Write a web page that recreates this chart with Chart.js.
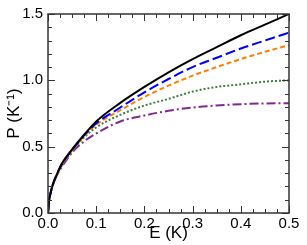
<!DOCTYPE html>
<html>
<head>
<meta charset="utf-8">
<script src="https://cdn.jsdelivr.net/npm/chart.js@4.4.0/dist/chart.umd.min.js"></script>
<style>
  html, body { margin: 0; padding: 0; background: #fff; }
  #wrap { width: 307px; height: 245px; }
</style>
</head>
<body>
<div id="wrap"><canvas id="c"></canvas></div>
<script>
// E (K) sample positions and P (K^-1)
const energy  = [0, 0.0025, 0.005, 0.01, 0.02, 0.03, 0.05, 0.075, 0.1, 0.15, 0.2, 0.25, 0.3, 0.35, 0.4, 0.45, 0.5];
const pBlack  = [0, 0.10, 0.145, 0.215, 0.305, 0.38, 0.48, 0.59, 0.69, 0.83, 0.95, 1.06, 1.16, 1.25, 1.34, 1.42, 1.50];
const pBlue   = [0, 0.10, 0.145, 0.215, 0.305, 0.375, 0.475, 0.585, 0.675, 0.795, 0.91, 1.01, 1.10, 1.17, 1.24, 1.30, 1.36];
const pOrange = [0, 0.10, 0.145, 0.215, 0.30, 0.37, 0.47, 0.58, 0.665, 0.775, 0.875, 0.96, 1.035, 1.10, 1.16, 1.215, 1.265];
const pGreen  = [0, 0.10, 0.145, 0.21, 0.30, 0.365, 0.465, 0.57, 0.645, 0.74, 0.81, 0.86, 0.915, 0.95, 0.97, 0.99, 1.00];
const pPurple = [0, 0.10, 0.145, 0.21, 0.295, 0.355, 0.455, 0.54, 0.60, 0.69, 0.735, 0.77, 0.795, 0.81, 0.82, 0.826, 0.828];

const xTickStep = 0.1, xMinorStep = 0.025;
const yTickStep = 0.5, yMinorStep = 0.1;

function pts(ys) {
  return energy.map((e, i) => ({ x: e, y: ys[i] }));
}

function series(data, color, dash) {
  return {
    data: pts(data),
    borderColor: color,
    borderWidth: 2,
    borderDash: dash,
    pointRadius: 0,
    showLine: true,
    fill: false,
    cubicInterpolationMode: 'monotone'
  };
}

// inward ticks on all four sides plus the frame
const frameTicks = {
  id: 'frameTicks',
  afterDatasetsDraw(chart) {
    const { ctx, chartArea: a, scales: { x, y } } = chart;
    ctx.save();
    ctx.strokeStyle = '#333';
    ctx.lineWidth = 1;
    const seg = (x1, y1, x2, y2) => {
      ctx.beginPath(); ctx.moveTo(x1, y1); ctx.lineTo(x2, y2); ctx.stroke();
    };
    const nx = Math.round((x.max - x.min) / xMinorStep);
    for (let i = 0; i <= nx; i++) {
      const v = x.min + i * xMinorStep;
      const major = i % Math.round(xTickStep / xMinorStep) === 0;
      const len = major ? 7 : 4;
      const px = Math.round(x.getPixelForValue(v)) + 0.5;
      seg(px, a.bottom, px, a.bottom - len);
      seg(px, a.top, px, a.top + len);
    }
    const ny = Math.round((y.max - y.min) / yMinorStep);
    for (let i = 0; i <= ny; i++) {
      const v = y.min + i * yMinorStep;
      const major = i % Math.round(yTickStep / yMinorStep) === 0;
      const len = major ? 7 : 4;
      const py = Math.round(y.getPixelForValue(v)) + 0.5;
      seg(a.left, py, a.left + len, py);
      seg(a.right, py, a.right - len, py);
    }
    ctx.lineWidth = 1.5;
    ctx.strokeRect(a.left, a.top, a.right - a.left, a.bottom - a.top);
    ctx.restore();
  }
};

new Chart(document.getElementById('c'), {
  type: 'scatter',
  data: {
    datasets: [
      series(pBlack, '#000000', []),
      series(pBlue, '#0000ff', [10, 4]),
      series(pOrange, '#ff8000', [5, 3]),
      series(pGreen, '#3d7f3d', [2, 2]),
      series(pPurple, '#7f2a8f', [9, 3, 2, 3])
    ]
  },
  options: {
    responsive: true,
    maintainAspectRatio: false,
    animation: false,
    events: [],
    layout: { padding: { top: 13, right: 18, left: 0, bottom: 0 } },
    plugins: { legend: { display: false }, tooltip: { enabled: false } },
    scales: {
      x: {
        type: 'linear',
        min: 0, max: 0.5,
        grid: { display: false, drawTicks: false },
        border: { display: false },
        ticks: {
          stepSize: xTickStep,
          padding: 2,
          color: '#000',
          font: { family: 'Liberation Sans', size: 15 },
          callback: v => v.toFixed(1)
        },
        title: {
          display: true, text: 'E (K)', color: '#000',
          font: { family: 'Liberation Sans', size: 17 },
          padding: { top: 0, bottom: 1 }
        },
        afterFit: s => { s.height = 32; }
      },
      y: {
        type: 'linear',
        min: 0, max: 1.5,
        grid: { display: false, drawTicks: false },
        border: { display: false },
        ticks: {
          stepSize: yTickStep,
          padding: 5,
          color: '#000',
          font: { family: 'Liberation Sans', size: 15 },
          callback: v => v.toFixed(1)
        },
        title: {
          display: true, text: 'P (K⁻¹)', color: '#000',
          font: { family: 'Liberation Sans', size: 17 },
          padding: { top: 4, bottom: 0 }
        },
        afterFit: s => { s.width = 48; }
      }
    }
  },
  plugins: [frameTicks]
});
</script>
</body>
</html>
